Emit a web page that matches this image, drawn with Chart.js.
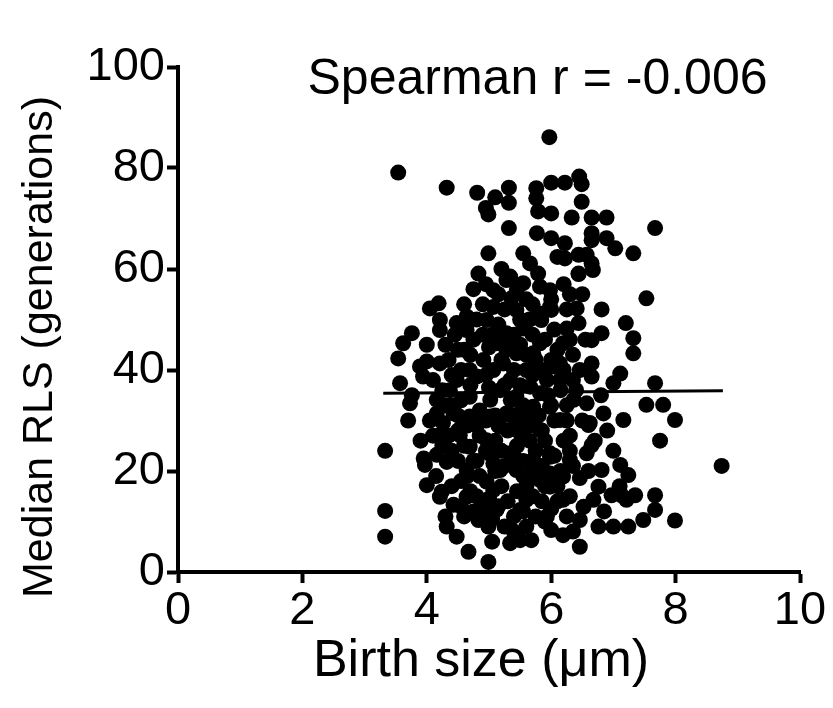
<!DOCTYPE html>
<html><head><meta charset="utf-8">
<script src="https://cdn.jsdelivr.net/npm/chart.js@4/dist/chart.umd.min.js"></script>
<style>html,body{margin:0;padding:0;background:#fff}#wrap{width:833px;height:708px}</style>
</head><body><div id="wrap"><canvas id="c" width="833" height="708"></canvas></div>
<script>
const xTicks = [0, 2, 4, 6, 8, 10];
const yTicks = [0, 20, 40, 60, 80, 100];
const xTitle = "Birth size (\u03bcm)";
const yTitle = "Median RLS (generations)";
const statText = "Spearman r = -0.006";
const fitX = [3.3, 8.76];
const fitY = [35.4, 35.9];

const birthSize = [
5.97,3.54,4.32,4.81,5.10,5.32,5.32,4.95,4.99,5.76,6.0,5.76,5.79,6.0,5.77,6.0,5.32,4.99,5.55,5.66,4.83,5.34,5.79,6.1,
6.22,6.45,6.49,6.49,6.33,6.65,6.89,7.67,6.22,6.65,6.65,6.89,7.03,7.32,6.22,6.44,6.65,6.57,6.44,
4.05,4.19,4.21,4.21,3.76,3.62,4.0,3.54,3.89,4.0,4.21,3.94,3.57,3.73,3.76,4.48,4.64,4.64,4.96,5.07,5.28,5.36,5.55,5.82,5.98,
5.07,5.44,5.82,5.98,5.55,5.84,5.28,5.12,5.28,5.44,5.82,5.71,4.91,4.69,4.48,4.80,5.07,5.23,5.34,5.60,5.93,6.03,
4.37,4.69,5.02,5.18,5.44,5.66,5.82,5.98,4.16,4.16,4.43,4.69,5.02,5.28,5.60,5.71,4.26,
6.44,6.67,7.53,6.81,6.41,6.44,6.0,7.2,6.81,6.65,7.32,7.32,6.25,6.19,6.65,6.46,6.65,7.11,7.0,7.67,6.14,6.14,
6.36,6.57,6.84,7.16,7.53,7.80,7.99,6.62,6.14,
3.33,3.33,3.33,4.21,4.53,3.97,4.16,4.32,4.64,4.0,4.24,4.21,4.43,4.64,4.32,4.48,4.67,4.99,4.83,4.99,4.99,5.12,
5.34,5.50,5.68,4.96,5.07,5.18,5.50,5.60,5.93,6.0,4.69,4.96,5.07,5.34,5.44,5.71,5.82,5.60,5.98,4.69,5.18,5.50,5.82,
6.6,7.75,8.74,6.65,6.57,6.30,5.98,5.98,6.19,6.46,6.81,7.11,7.24,6.76,6.97,7.13,7.35,7.67,7.21,7.67,7.48,7.24,7.0,
6.76,7.99,6.46,6.46,6.19,6.52,6.19,5.98,6.68,
4.6,4.75,4.9,5.0,5.15,5.25,5.4,5.5,5.65,5.7,5.9,6.05,6.1,6.25,6.3,6.35,4.55,4.7,4.85,5.0,5.1,5.25,5.35,5.45,5.55,
5.7,5.8,5.95,6.05,6.15,6.25,6.3,4.5,4.6,4.75,4.85,5.0,5.1,5.2,5.3,5.45,5.55,5.65,5.75,5.9,6.05,6.2,6.35,4.4,4.55,
4.7,4.85,5.2,5.3,5.45,5.7,5.85,6.1,6.3,4.1,4.25,4.35,4.5,4.3,4.6,4.75,4.9,5.2,5.45,5.6,6.2,6.5,6.55,6.4,6.5,6.7,
6.8,6.9,7.0,6.6,6.85,7.1,4.9,4.75,5.25,5.6,5.75,6.0,5.05,4.6,3.9,4.05,3.95,3.7,4.15,4.3,4.4,
4.45,4.55,4.7,4.8,4.95,5.05,5.2,5.3,5.4,5.5,5.6,5.75,5.85,6.0,6.2,6.3,6.0,5.7,5.5,5.15,4.95,4.7,
4.4,4.5,4.65,4.8,4.95,5.15,5.35,5.5,5.65,5.85,6.0,6.25,6.35,4.35,4.5,4.65,4.8,4.95,5.1,5.25,5.4,5.55,
5.7,5.85,6.15,6.3,4.8,5.0,5.15,5.4,5.55,5.7,5.9,6.1,6.25,4.25,4.1,4.4,4.3,4.55,5.05,5.4,5.9,6.35
];
const medianRLS = [
86.1,79.1,76.1,75.1,74.2,76.1,73.1,72.1,70.8,76.0,77.1,74.0,71.4,71.0,67.1,66.1,68.1,63.1,63.1,61.1,59.1,58.5,59.1,62.4,
77.1,78.3,76.8,73.3,70.2,70.2,70.2,68.1,65.1,67.1,65.7,66.1,64.1,63.1,62.1,62.8,61.1,62.8,59.1,
52.2,53.2,49.9,47.9,47.3,45.3,45.0,42.3,40.7,41.7,41.3,38.7,37.4,33.4,35.0,49.3,50.6,47.9,49.9,55.8,57.8,54.2,57.2,56.5,55.8,
52.5,51.9,51.2,52.5,48.2,49.9,47.3,45.3,44.0,43.3,45.3,43.3,42.0,40.0,38.0,38.7,40.0,41.3,38.0,40.0,38.0,40.7,
36.0,34.7,34.1,36.0,34.7,36.7,35.4,32.7,34.1,31.4,31.4,30.8,30.8,31.4,30.8,32.7,29.5,
59.0,59.8,54.2,52.0,52.2,49.3,51.9,49.3,47.3,45.9,46.3,43.3,48.2,45.3,41.3,40.0,38.7,39.3,37.4,37.4,41.3,38.0,
34.1,33.4,31.4,30.1,33.1,33.1,30.1,29.5,30.1,
24.0,12.1,7.0,27.1,27.1,21.2,23.2,21.8,20.2,17.2,15.9,14.9,13.3,14.9,9.0,7.0,4.0,2.0,10.3,9.0,12.3,12.3,
5.7,6.3,6.3,17.9,16.2,20.2,12.3,14.3,11.0,8.3,24.8,26.1,21.5,23.5,20.2,22.2,18.2,16.9,22.8,29.5,28.8,27.5,28.1,
29.1,26.0,21.0,25.1,23.5,22.2,23.5,19.5,18.9,18.6,20.2,21.2,19.2,16.9,15.2,15.2,15.2,15.2,14.3,12.3,10.3,9.0,9.0,
9.0,10.2,10.3,5.0,7.3,12.9,14.3,16.9,14.3,
44,46,47,44.5,49,52,47,45,50,47,46,48,44,52,55,43,34,37,32,36.5,31,37,34,29,33,
39,31,35,30,36,33,27,28,25,22,27,23.5,26,24,28,25,22,26,24,26,23,26,21,24,18,
16,19,17,14,16,19,14,17,15,38,36,42,44,45,53,56,53,60,56,54,57,55,46,36,30,26,
35,28,24,20,12,17,14,12,9,9,11,12.5,6,11,26,30,22.5,30,19,33,39,
47,40,43,50,39,47,42,46,40,37,43,42,40,42,40,46,54,53,50,55,57,50,
33,31,29,29,30,29,31,31.5,29,28,33,30,38,27,22,19,22,24,20,21,23,19,
21,21,20,24,15,14.5,13,11,12,15,17,14,11,25,27,17,11,13,10.5,8,10,8
];

const scatterData = birthSize.map((x, i) => ({ x: x, y: medianRLS[i] }));
const fitData = fitX.map((x, i) => ({ x: x, y: fitY[i] }));

const FONT = '"Liberation Sans", Arial, sans-serif';

const textPlugin = {
  id: 'texts',
  afterDraw(chart) {
    const ctx = chart.ctx;
    const xs = chart.scales.x, ys = chart.scales.y;
    ctx.save();
    ctx.fillStyle = '#000';
    ctx.textAlign = 'center';
    // statistic
    ctx.font = '50px ' + FONT;
    ctx.textBaseline = 'alphabetic';
    ctx.fillText(statText, xs.getPixelForValue(5.78), ys.getPixelForValue(94.6));
    // x title
    ctx.font = '52px ' + FONT;
    ctx.textBaseline = 'middle';
    ctx.fillText(xTitle, 481, 662);
    // y title
    ctx.translate(40, 347);
    ctx.rotate(-Math.PI / 2);
    ctx.font = '43px ' + FONT;
    ctx.fillText(yTitle, 0, 0);
    ctx.restore();
  }
};

new Chart(document.getElementById('c'), {
  type: 'scatter',
  data: {
    datasets: [
      { type: 'scatter', data: scatterData, backgroundColor: '#000', borderWidth: 0, pointRadius: 8, pointHoverRadius: 8 },
      { type: 'line', data: fitData, borderColor: '#000', borderWidth: 3, pointRadius: 0, fill: false, showLine: true }
    ]
  },
  options: {
    responsive: false,
    animation: false,
    events: [],
    layout: { padding: { top: 67, right: 33, left: 0, bottom: 0 } },
    plugins: { legend: { display: false }, tooltip: { enabled: false } },
    scales: {
      x: {
        type: 'linear', min: 0, max: 10,
        afterBuildTicks: s => { s.ticks = xTicks.map(v => ({ value: v })); },
        afterFit: s => { s.height = 136; },
        ticks: { color: '#000', font: { family: FONT, size: 47 }, padding: 0 },
        grid: { drawOnChartArea: false, drawTicks: true, tickLength: 11, tickWidth: 4, tickColor: '#000' },
        border: { color: '#000', width: 4 }
      },
      y: {
        type: 'linear', min: 0, max: 100,
        afterBuildTicks: s => { s.ticks = yTicks.map(v => ({ value: v })); },
        afterFit: s => { s.width = 178; },
        ticks: { color: '#000', font: { family: FONT, size: 47 }, padding: 2 },
        grid: { drawOnChartArea: false, drawTicks: true, tickLength: 11, tickWidth: 4, tickColor: '#000' },
        border: { color: '#000', width: 4 }
      }
    }
  },
  plugins: [textPlugin]
});
</script>
</body></html>
